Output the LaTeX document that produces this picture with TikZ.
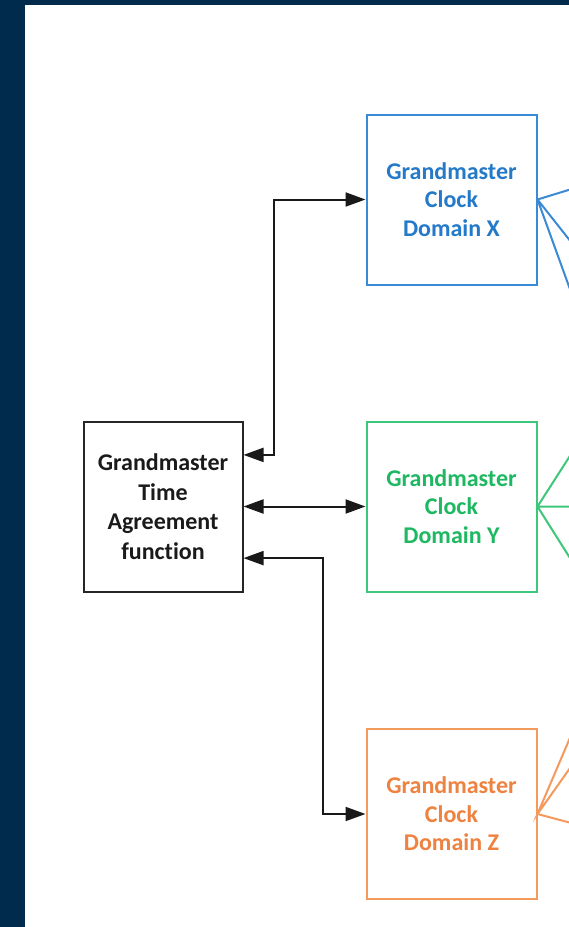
\documentclass[tikz,border=0pt]{standalone}
\usepackage{fontspec}
\setmainfont{Carlito}[Ligatures={NoCommon,NoRequired}]
\usetikzlibrary{arrows.meta,calc}
\definecolor{navy}{HTML}{012B4D}
\definecolor{blueT}{HTML}{2479C8}
\definecolor{blueB}{HTML}{3A8AD5}
\definecolor{greenT}{HTML}{1DB861}
\definecolor{greenB}{HTML}{3CC77A}
\definecolor{orangeT}{HTML}{EE8240}
\definecolor{orangeB}{HTML}{F39A5C}
\definecolor{darkT}{HTML}{1A1A1A}
\tikzset{
  box/.style={draw, line width=2pt, align=center, inner sep=0pt,
    font=\bfseries\fontsize{24}{28.5}\selectfont, minimum width=170pt, minimum height=170pt},
  conn/.style={line width=2pt, draw=black!90, {Triangle[length=20pt,width=14pt]}-{Triangle[length=20pt,width=14pt]}},
  fan/.style={line width=2pt}
}
\begin{document}
\begin{tikzpicture}[x=1pt,y=-1pt]
\fill[navy] (0,0) rectangle (569,927);
\fill[white] (25,5) rectangle (569,927);
\useasboundingbox (0,0) rectangle (569,927);
\begin{scope}
\clip (25,5) rectangle (569,927);
\node[box, draw=black!85, text=darkT, minimum width=159pt, font=\bfseries\fontsize{24}{29.5}\selectfont] (G) at (163,506.5) {Grandmaster\\Time\\Agreement\\function};
\node[box, draw=blueB, text=blueT] (X) at (451.5,199.5) {Grandmaster\\Clock\\Domain X};
\node[box, draw=greenB, text=greenT] (Y) at (451.5,506.5) {Grandmaster\\Clock\\Domain Y};
\node[box, draw=orangeB, text=orangeT] (Z) at (451.5,814) {Grandmaster\\Clock\\Domain Z};

\coordinate (gx) at ($(G.north east)!0.2!(G.south east)$);
\coordinate (gz) at ($(G.north east)!0.8!(G.south east)$);
\coordinate (bx) at (274,0);
\coordinate (bz) at (323,0);
\draw[conn] (gx) -- (gx -| bx) |- (X.west);
\draw[conn] (G.east) -- (Y.west);
\draw[conn] (gz) -- (gz -| bz) |- (Z.west);

\coordinate (x1) at (575,188);
\coordinate (x2) at (575,247);
\coordinate (x3) at (575,303);
\draw[fan, blueB] (x1) -- (X.east) -- (x2) (X.east) -- (x3);
\coordinate (y1) at (575,448);
\coordinate (y2) at (575,506.5);
\coordinate (y3) at (575,566);
\draw[fan, greenB] (y1) -- (Y.east) -- (y2) (Y.east) -- (y3);
\coordinate (z1) at (575,726);
\coordinate (z2) at (575,761);
\coordinate (z3) at (575,824);
\draw[fan, orangeB] (z1) -- (Z.east) -- (z2) (Z.east) -- (z3);
\end{scope}
\end{tikzpicture}
\end{document}
